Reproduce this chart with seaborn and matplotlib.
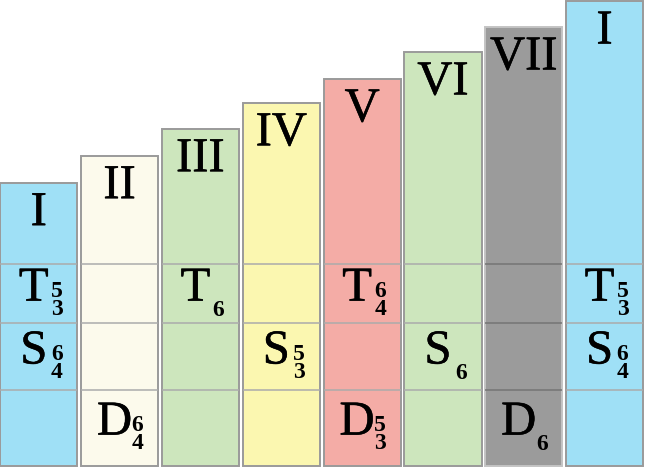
import matplotlib
matplotlib.use("Agg")
import matplotlib.pyplot as plt
import matplotlib.patheffects as pe
import seaborn as sns
import pandas as pd

# scale degrees, left to right
numerals = ['I', 'II', 'III', 'IV', 'V', 'VI', 'VII', 'I']
heights = [283, 310, 337, 363, 387, 414, 439, 465]
colors = ['#9fe0f6', '#fcfaec', '#cde6bd', '#fbf7b0', '#f4aca6',
          '#cde6bd', '#9b9b9b', '#9fe0f6']

# function rows (bottom -> top boundaries) and chord labels
row_bounds = [0, 76, 142.5, 202]
row_letters = ['D', 'S', 'T']
d_row = ['', '6/4', '', '', '5/3', '', '6', '']
s_row = ['6/4', '', '', '5/3', '', '6', '', '6/4']
t_row = ['5/3', '', '6', '', '6/4', '', '', '5/3']

sns.set_style("white")
serif = ['Liberation Serif', 'DejaVu Serif']
heavy = [pe.withStroke(linewidth=0.4, foreground='black')]

df = pd.DataFrame({'pos': range(len(numerals)), 'h': heights})

fig = plt.figure(figsize=(6.45, 4.67), dpi=100)
ax = fig.add_axes([0, 0, 1, 1])

sns.barplot(data=df, x='pos', y='h', hue='pos', palette=colors,
            saturation=1, width=0.955, legend=False, ax=ax,
            edgecolor='#9a9a9a', linewidth=1.4)

ax.set_xlim(-0.48, 7.5)
ax.set_ylim(-1.5, 466.5)
ax.axis('off')

for i, p in enumerate(ax.patches[:len(numerals)]):
    x0, w = p.get_x(), p.get_width()
    cx = x0 + w / 2
    dark = colors[i] == '#9b9b9b'
    if dark:
        p.set_edgecolor('#c4c4c4')
    line_c = '#747474' if dark else '#ababab'
    for yb in row_bounds[1:]:
        ax.hlines(yb, x0, x0 + w, colors=line_c, linewidth=1.1, zorder=3)

    # roman numeral near the top
    ax.annotate(numerals[i], (cx, heights[i]), xytext=(0, -30),
                textcoords='offset pixels', ha='center', va='center',
                fontsize=35, family=serif, color='black',
                path_effects=heavy)

    # chord symbols with figured bass (stacked digits as one text)
    for r, row in enumerate([d_row, s_row, t_row]):
        fig_str = row[i]
        if not fig_str:
            continue
        yc = (row_bounds[r] + row_bounds[r + 1]) / 2
        ax.annotate(row_letters[r], (cx, yc), xytext=(-5, 5),
                    textcoords='offset pixels', ha='center', va='center',
                    fontsize=35, family=serif, color='black',
                    path_effects=heavy)
        nums = fig_str.split('/')
        dy = -7 if len(nums) == 2 else -17
        ax.annotate('\n'.join(nums), (cx, yc), xytext=(18, dy),
                    textcoords='offset pixels', ha='center',
                    va='center', ma='center', fontsize=17,
                    fontweight='bold', linespacing=0.82,
                    family=serif, color='black')

fig.savefig('out.png', dpi=100)
